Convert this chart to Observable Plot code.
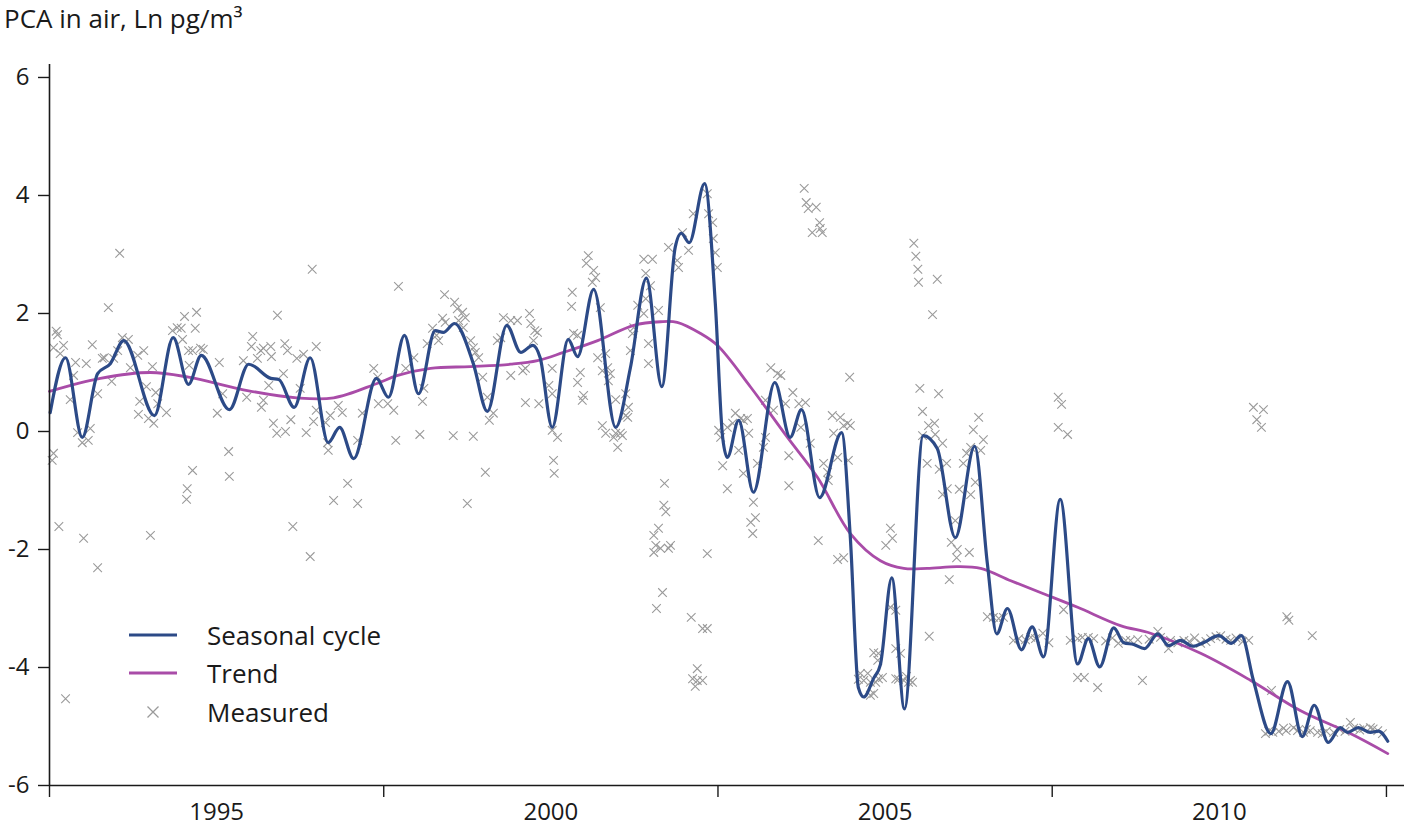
<!DOCTYPE html>
<html>
<head>
<meta charset="utf-8">
<script src="https://cdn.jsdelivr.net/npm/d3@7"></script>
<script src="https://cdn.jsdelivr.net/npm/@observablehq/plot@0.6"></script>
<style>
  body { margin: 0; background: #fff; font-family: "Open Sans", sans-serif; color: #1a1a1a; }
  #wrap { position: relative; width: 1404px; height: 832px; overflow: hidden; }
  #title { position: absolute; left: 4px; top: 0px; font-size: 26px; line-height: 36px; white-space: nowrap; }
  #chart { position: absolute; left: 0; top: 40px; }
  .leg { position: absolute; left: 129px; height: 38px; display: flex; align-items: center; font-size: 26px; white-space: nowrap; }
  .leg svg { width: 48px; height: 20px; margin-right: 30px; flex: none; }
</style>
</head>
<body>
<div id="wrap">
  <div id="chart"></div>
  <div id="title">PCA in air, Ln pg/m³</div>
  <div id="legend"></div>
</div>
<script>
// ---- Data (decimal year, Ln pg/m3) ----
const seasonal = [
[1992.51,0.32],[1992.74,1.25],[1992.99,-0.10],[1993.22,0.98],[1993.41,1.15],[1993.61,1.54],[1994.07,0.27],[1994.35,1.59],[1994.58,0.80],[1994.77,1.29],
[1995.19,0.37],[1995.48,1.14],[1995.81,0.90],[1995.93,0.88],[1996.16,0.41],[1996.40,1.25],[1996.67,-0.19],[1996.84,0.07],[1997.05,-0.46],[1997.39,0.90],
[1997.57,0.58],[1997.81,1.63],[1998.02,0.64],[1998.27,1.71],[1998.39,1.68],[1998.56,1.83],[1998.84,1.15],[1999.05,0.34],[1999.34,1.80],[1999.55,1.34],
[1999.73,1.46],[1999.84,1.25],[2000.02,0.07],[2000.26,1.56],[2000.40,1.27],[2000.64,2.41],[2000.97,0.07],[2001.19,1.08],[2001.43,2.60],[2001.66,0.76],
[2001.86,3.12],[2001.95,3.36],[2002.07,3.20],[2002.30,4.20],[2002.46,2.17],[2002.57,-0.10],[2002.64,-0.44],[2002.81,0.19],[2003.03,-1.03],[2003.35,0.83],
[2003.58,-0.10],[2003.75,0.37],[2004.02,-1.12],[2004.35,-0.02],[2004.48,-1.80],[2004.60,-4.34],[2004.68,-4.50],[2004.83,-4.18],[2004.93,-3.95],[2005.10,-2.48],
[2005.29,-4.70],[2005.57,-0.07],[2005.78,-0.29],[2006.05,-1.80],[2006.34,-0.25],[2006.53,-2.24],[2006.67,-3.43],[2006.83,-3.00],[2007.04,-3.70],[2007.20,-3.31],
[2007.37,-3.82],[2007.62,-1.15],[2007.88,-3.94],[2008.04,-3.51],[2008.21,-3.99],[2008.42,-3.33],[2008.57,-3.58],[2008.72,-3.61],[2008.88,-3.68],[2009.08,-3.43],
[2009.24,-3.63],[2009.42,-3.54],[2009.60,-3.64],[2009.76,-3.58],[2009.99,-3.46],[2010.18,-3.59],[2010.33,-3.46],[2010.51,-4.22],[2010.77,-5.12],[2011.02,-4.24],
[2011.24,-5.17],[2011.42,-4.64],[2011.63,-5.27],[2011.81,-5.02],[2011.92,-5.10],[2012.08,-5.02],[2012.26,-5.10],[2012.38,-5.08],[2012.52,-5.25]
];

const trend = [
[1992.50,0.68],[1993.26,0.90],[1994.01,1.00],[1994.58,0.92],[1995.48,0.69],[1996.20,0.57],[1996.75,0.57],[1997.39,0.81],[1997.71,0.95],[1998.20,1.07],
[1998.80,1.10],[1999.40,1.14],[1999.80,1.20],[2000.19,1.34],[2000.70,1.54],[2001.24,1.80],[2001.64,1.86],[2001.89,1.85],[2002.24,1.66],[2002.49,1.46],
[2002.99,0.75],[2003.54,-0.10],[2003.99,-0.78],[2004.48,-1.73],[2004.93,-2.19],[2005.28,-2.32],[2005.63,-2.32],[2006.08,-2.29],[2006.43,-2.32],[2006.88,-2.53],
[2007.37,-2.75],[2007.88,-2.98],[2008.52,-3.29],[2008.97,-3.42],[2009.72,-3.76],[2010.47,-4.22],[2011.21,-4.73],[2011.96,-5.12],[2012.52,-5.46]
];

const measured = [
[1993.55,3.02],[1996.43,2.75],[1993.38,2.10],[1994.52,1.95],[1994.70,2.02],[1995.91,1.97],[1992.60,1.70],[1992.62,1.64],[1992.56,1.42],[1992.71,1.46],
[1992.66,1.32],[1993.14,1.47],[1993.05,1.15],[1992.89,1.17],[1993.29,1.24],[1993.32,1.25],[1993.59,1.59],[1993.68,1.56],[1993.52,1.37],[1993.46,1.24],
[1993.82,1.29],[1993.91,1.37],[1993.43,0.85],[1993.71,1.08],[1994.04,1.10],[1993.85,0.51],[1993.83,0.29],[1993.95,0.76],[1994.09,0.66],[1994.12,0.47],
[1993.98,0.22],[1994.06,0.14],[1994.25,0.32],[1994.34,1.71],[1994.41,1.76],[1994.47,1.75],[1994.49,1.56],[1994.58,1.37],[1994.64,1.37],[1994.68,1.75],
[1994.76,1.41],[1994.80,1.39],[1994.59,1.12],[1992.86,0.95],[1992.81,0.54],[1993.22,0.64],[1992.92,-0.02],[1992.99,-0.19],[1993.08,-0.15],[1993.11,0.05],
[1992.56,-0.37],[1992.54,-0.49],[1992.64,-1.61],[1993.01,-1.81],[1994.01,-1.76],[1994.64,-0.66],[1994.56,-0.97],[1994.55,-1.15],[1995.18,-0.34],[1995.19,-0.76],
[1995.04,1.17],[1995.01,0.31],[1995.09,0.64],[1995.54,1.61],[1995.52,1.44],[1995.40,1.20],[1995.45,0.58],[1995.66,1.37],[1995.70,1.41],[1995.81,1.44],
[1995.82,1.27],[1995.61,1.24],[1995.67,0.41],[1995.70,0.53],[1995.85,0.14],[1995.90,-0.03],[1996.03,0.00],[1996.11,0.20],[1996.02,1.49],[1996.06,1.37],
[1996.20,1.24],[1996.30,1.31],[1996.00,0.98],[1995.78,0.78],[1996.25,0.73],[1996.49,1.44],[1996.34,-0.02],[1996.45,0.17],[1996.49,0.36],[1996.63,0.15],
[1996.70,0.27],[1996.66,-0.19],[1996.67,-0.32],[1996.75,-1.17],[1996.14,-1.61],[1996.40,-2.12],[1992.74,-4.53],[1993.22,-2.31],
[1997.72,2.46],[1998.41,2.32],[1998.56,2.19],[1998.60,2.08],[1998.68,2.02],[1998.72,1.93],[1998.62,1.88],[1998.38,1.92],[1998.42,1.85],[1998.23,1.75],
[1998.29,1.63],[1998.32,1.54],[1998.15,1.49],[1998.69,1.76],[1998.80,1.54],[1998.84,1.42],[1998.87,1.34],[1998.92,1.25],[1998.98,0.92],[1999.05,0.58],
[1999.14,0.31],[1999.08,0.19],[1999.02,-0.69],[1998.75,-1.22],[1998.54,-0.07],[1998.84,-0.08],[1998.04,-0.05],[1997.68,-0.15],[1997.65,0.36],[1997.42,0.47],
[1997.56,0.47],[1997.35,1.07],[1997.41,0.92],[1997.83,1.07],[1997.95,1.25],[1998.08,0.51],[1998.10,0.73],[1996.96,-0.88],[1997.11,-1.22],[1997.18,0.31],
[1996.88,0.32],[1996.82,0.44],[1997.11,-0.15],[1999.29,1.93],[1999.40,1.88],[1999.50,1.88],[1999.20,1.54],[1999.25,1.59],[1999.40,0.95],[1999.68,2.00],
[1999.70,1.83],[1999.76,1.71],[1999.80,1.68],[1999.74,1.54],[1999.62,1.07],[1999.58,1.03],[1999.62,0.49],[1999.82,0.47],[1999.97,0.78],[2000.02,0.64],
[2000.02,1.07],[2000.04,-0.49],[2000.05,-0.71],[2000.02,0.02],[2000.10,-0.10],[2000.32,2.36],[2000.31,2.12],[2000.34,1.66],[2000.40,1.63],[2000.44,1.00],
[2000.40,0.83],[2000.49,0.61],[2000.47,0.53],[2000.53,2.85],[2000.56,2.98],[2000.64,2.73],[2000.67,2.61],[2000.62,2.53],[2000.70,1.25],[2000.77,1.03],
[2000.85,1.08],[2000.89,0.98],[2000.86,0.86],[2000.77,0.10],[2000.82,-0.03],[2000.97,0.54],[2000.94,-0.10],[2001.00,-0.27],[2001.04,-0.03],[2001.16,0.41],
[2001.15,0.24],
[2000.74,2.10],[2000.82,1.32],[2000.97,-0.03],[2001.07,-0.07],[2001.12,0.64],[2001.12,0.27],[2001.22,1.66],[2001.19,1.37],[2001.24,1.76],[2001.30,2.14],
[2001.39,2.00],[2001.39,2.92],[2001.52,2.92],[2001.42,2.68],[2001.49,2.47],[2001.42,2.25],[2001.46,1.49],[2001.46,1.15],[2001.61,2.05],[2001.70,-0.88],
[2001.69,-1.25],[2001.72,-1.36],[2001.61,-1.64],[2001.54,-1.76],[2001.57,-1.93],[2001.54,-2.05],[2001.64,-1.98],[2001.76,-1.98],[2001.79,-1.93],[2001.67,-2.73],
[2001.58,-3.00],[2001.76,3.12],[2001.89,2.90],[2001.91,2.78],[2001.97,3.37],[2002.06,3.07],[2002.13,3.69],[2002.34,-2.07],[2002.10,-3.15],[2002.27,-3.34],
[2002.34,-3.34],[2002.19,-4.02],[2002.12,-4.19],[2002.19,-4.22],[2002.27,-4.22],[2002.16,-4.32],[2002.34,4.03],[2002.36,3.69],[2002.42,3.54],[2002.43,3.27],
[2002.46,3.03],[2002.49,2.78],[2002.51,0.02],[2002.54,-0.10],[2002.57,-0.58],[2002.64,-0.97],[2002.64,0.07],[2002.72,0.14],[2002.76,0.31],[2002.84,0.22],
[2002.88,0.19],[2002.94,0.22],[2002.81,-0.32],[2002.96,-0.03],[2002.88,-0.71],[2003.03,-1.20],[2002.99,-1.54],[2003.06,-1.46],[2003.02,-1.73],[2003.09,-0.54],
[2003.18,-0.27],[2003.21,-0.10],[2003.21,0.53],[2003.29,1.08],[2003.39,0.98],[2003.44,0.95],[2003.33,0.36],[2003.51,0.47],[2003.62,0.66],[2003.56,-0.41],
[2003.56,-0.92],[2003.71,0.47],[2003.81,0.49],[2003.74,0.07],[2003.88,-0.20],[2004.08,-0.54],[2004.14,-0.69],[2004.15,-0.83],[2004.00,-1.85],[2003.79,4.12],
[2003.82,3.88],[2003.85,3.78],[2003.97,3.80],[2003.91,3.37],[2004.02,3.54],[2004.03,3.44],[2004.06,3.37],[2004.21,0.27],[2004.33,0.24],[2004.38,0.10],
[2004.44,0.14],[2004.48,0.10],[2004.23,-0.03],[2004.29,-0.44],[2004.45,-0.49],[2004.47,0.92],[2004.29,-2.17],[2004.38,-2.14],[2004.60,-4.20],[2004.74,-4.10],
[2004.78,-4.25],[2004.89,-3.88],[2004.90,-3.76],
[2005.43,3.19],[2005.46,2.97],[2005.49,2.75],[2005.50,2.53],[2005.78,2.58],[2005.71,1.98],[2005.52,0.73],[2005.80,0.64],[2005.56,0.34],[2005.65,0.10],
[2005.74,0.14],[2005.56,-0.07],[2005.75,-0.05],[2005.86,-0.20],[2005.63,-0.54],[2005.81,-0.64],[2005.92,-0.54],[2005.93,-0.97],[2005.86,-1.07],[2006.11,-0.98],
[2006.17,-0.54],[2006.22,-0.37],[2006.28,-0.27],[2006.40,0.24],[2006.32,0.03],[2006.47,-0.14],[2006.43,-0.32],[2006.35,-0.86],[2006.28,-1.07],[2006.05,-1.51],
[2005.99,-1.88],[2006.08,-2.00],[2006.07,-2.14],[2006.26,-2.05],[2005.96,-2.51],[2005.66,-3.47],[2005.08,-1.64],[2005.11,-1.81],[2005.01,-1.93],[2005.08,-2.98],
[2005.16,-3.03],[2005.16,-3.68],[2005.23,-3.76],[2005.16,-4.19],[2005.28,-4.22],[2005.35,-4.25],[2005.41,-4.25],[2004.83,-3.75],[2004.90,-4.19],[2004.96,-4.17],
[2004.83,-4.44],[2004.78,-4.47],[2004.63,-4.10],[2004.68,-4.22],[2004.86,-4.25],[2005.20,-4.20],[2005.32,-4.15],[2005.38,-4.22],
[2006.53,-3.14],[2006.62,-3.15],[2006.70,-3.17],[2006.77,-3.15],[2006.92,-3.54],[2007.00,-3.51],[2007.10,-3.53],[2007.18,-3.49],[2007.25,-3.51],[2007.36,-3.42],
[2007.45,-3.58],[2007.59,0.58],[2007.64,0.46],[2007.59,0.07],[2007.73,-0.05],[2007.67,-3.02],[2007.77,-3.54],[2007.88,-3.51],[2007.95,-3.49],[2008.04,-3.49],
[2008.12,-3.51],[2007.88,-4.17],[2007.98,-4.17],[2008.18,-4.34],[2008.49,-3.59],
[2010.51,0.41],[2010.66,0.37],[2010.56,0.20],[2010.63,0.07],[2011.01,-3.14],[2011.04,-3.20],[2011.39,-3.46],[2008.85,-4.22],[2008.60,-3.54],[2008.67,-3.54],
[2008.78,-3.53],[2009.08,-3.39],[2009.24,-3.68],[2009.27,-3.54],[2009.38,-3.58],[2009.47,-3.54],[2009.72,-3.59],[2009.87,-3.51],[2010.02,-3.46],[2010.17,-3.54],
[2010.44,-3.54],[2010.78,-4.39],[2010.69,-5.12],[2010.80,-5.10],[2010.89,-5.08],[2010.96,-5.03],[2011.11,-5.02],[2011.17,-5.07],[2011.26,-5.10],[2011.36,-5.07],
[2011.47,-5.10],[2011.54,-5.12],[2011.71,-5.10],[2011.96,-4.93],[2012.01,-5.03],[2012.16,-5.03],[2012.26,-5.02],[2012.37,-5.07],[2012.44,-5.12],
[2008.30,-3.55],[2008.40,-3.50],[2008.95,-3.52],[2009.12,-3.49],[2009.55,-3.56],[2009.63,-3.50],[2009.80,-3.56],[2009.95,-3.48],[2010.10,-3.52],[2010.25,-3.50],
[2010.35,-3.56],[2010.74,-5.08],[2011.00,-5.07],[2011.30,-5.05],[2011.60,-5.08],[2011.80,-5.05],[2011.88,-5.08],[2012.10,-5.06],[2012.30,-5.04]
];

const yearTicks = [1992.5, 1997.5, 2002.5, 2007.5, 2012.5];
const yearLabels = [1995, 2000, 2005, 2010];
const valueTicks = [-6, -4, -2, 0, 2, 4, 6];
const xDomain = [1992.5, 2012.77];
const yDomain = [-6, 6.22];

const colors = { seasonal: "#2c4a87", trend: "#a94ca8", measured: "#9a9a9a", axis: "#1a1a1a" };

const chart = Plot.plot({
  width: 1404,
  height: 792,
  marginLeft: 49,
  marginRight: 0,
  marginTop: 24,
  marginBottom: 47,
  style: { fontFamily: "'Open Sans', sans-serif", fontSize: "24px", color: colors.axis, background: "white", overflow: "visible" },
  x: { domain: xDomain },
  y: { domain: yDomain },
  marks: [
    Plot.dot(measured, { x: d => d[0], y: d => d[1], symbol: "times", r: 4, stroke: colors.measured, strokeWidth: 1.1 }),
    Plot.line(trend, { x: d => d[0], y: d => d[1], stroke: colors.trend, strokeWidth: 2.8, curve: "catmull-rom" }),
    Plot.line(seasonal, { x: d => d[0], y: d => d[1], stroke: colors.seasonal, strokeWidth: 3.2, curve: "monotone-x" }),
    Plot.ruleY([yDomain[0]], { stroke: colors.axis, strokeWidth: 1.6 }),
    Plot.ruleX([xDomain[0]], { stroke: colors.axis, strokeWidth: 1.6 }),
    Plot.axisY({ ticks: valueTicks, tickSize: 11, tickPadding: 9, tickFormat: d => String(d), label: null, fontSize: 24, strokeWidth: 1.4 }),
    Plot.axisX({ ticks: yearTicks, tickSize: 12, tickFormat: () => "", label: null, strokeWidth: 1.4 }),
    Plot.axisX({ ticks: yearLabels, tickSize: 0, tickPadding: 17, tickFormat: d => String(d), label: null, fontSize: 24 })
  ]
});
document.getElementById("chart").appendChild(chart);

// ---- Legend (HTML, over the plot) ----
const legendItems = [
  { label: "Seasonal cycle", kind: "line", color: colors.seasonal, top: 616 },
  { label: "Trend", kind: "line", color: colors.trend, top: 654 },
  { label: "Measured", kind: "times", color: colors.measured, top: 693 }
];
const legend = document.getElementById("legend");
for (const it of legendItems) {
  const row = document.createElement("div");
  row.className = "leg";
  row.style.top = it.top + "px";
  const sw = it.kind === "line"
    ? `<svg viewBox="0 0 48 20"><line x1="0" y1="10" x2="48" y2="10" stroke="${it.color}" stroke-width="3"/></svg>`
    : `<svg viewBox="0 0 48 20"><path d="M18.5,4.5L29.5,15.5M29.5,4.5L18.5,15.5" stroke="${it.color}" stroke-width="1.3" fill="none"/></svg>`;
  row.innerHTML = sw + `<span>${it.label}</span>`;
  legend.appendChild(row);
}
</script>
</body>
</html>
